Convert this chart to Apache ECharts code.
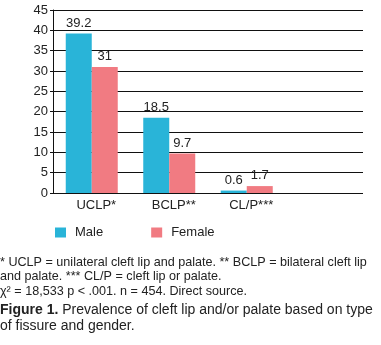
<!DOCTYPE html>
<html>
<head>
<meta charset="utf-8">
<script src="https://cdn.jsdelivr.net/npm/echarts@6/dist/echarts.min.js"></script>
<style>
html, body { margin: 0; padding: 0; background: #fff; }
#chart { width: 381px; height: 345px; }
</style>
</head>
<body>
<div id="chart"></div>
<script>
// the last slot is empty in the original figure
const categories = ["UCLP*", "BCLP**", "CL/P***", ""]
const male = [39.2, 18.5, 0.6, null]
const female = [31, 9.7, 1.7, null]
const yTicks = { min: 0, max: 45, interval: 5 }

const font = "Liberation Sans, Arial, sans-serif"
const chart = echarts.init(document.getElementById("chart"))

const option = {
	animation: false,
	textStyle: { fontFamily: font },
	grid: { left: 53, top: 10, width: 310, height: 183 },
	legend: {
		left: 55,
		top: 226,
		padding: 0,
		icon: "rect",
		itemWidth: 11,
		itemHeight: 10,
		itemGap: 48,
		textStyle: { fontSize: 13, color: "#222", fontFamily: font, padding: [0, 0, 0, 4] },
		data: ["Male", "Female"]
	},
	xAxis: {
		type: "category",
		data: categories,
		axisLine: { show: false },
		axisTick: { show: false },
		axisLabel: { fontSize: 13, color: "#222", margin: 6, fontFamily: font, padding: [0, 0, 0, 9] }
	},
	yAxis: {
		type: "value",
		min: yTicks.min,
		max: yTicks.max,
		interval: yTicks.interval,
		axisLine: { show: true, lineStyle: { color: "#111", width: 1 } },
		axisTick: { show: true, length: 3, lineStyle: { color: "#111" } },
		axisLabel: { fontSize: 13, color: "#222", margin: 5, fontFamily: font },
		splitLine: { show: true, lineStyle: { color: "#111", width: 1 } }
	},
	series: [
		{
			name: "Male",
			type: "bar",
			data: male,
			barWidth: 26,
			barGap: "0%",
			itemStyle: { color: "#29b4d8" },
			label: { show: true, position: "top", fontSize: 13, color: "#222", distance: 4, fontFamily: font }
		},
		{
			name: "Female",
			type: "bar",
			data: female,
			barWidth: 26,
			itemStyle: { color: "#f17b82" },
			label: { show: true, position: "top", fontSize: 13, color: "#222", distance: 4, fontFamily: font }
		}
	],
	graphic: [
		{
			type: "text",
			left: 0,
			top: 255,
			style: {
				text: "* UCLP = unilateral cleft lip and palate. ** BCLP = bilateral cleft lip\nand palate. *** CL/P = cleft lip or palate.\nχ² = 18,533 p < .001. n = 454. Direct source.",
				font: "12.6px " + font,
				lineHeight: 14.5,
				fill: "#222"
			}
		},
		{
			type: "text",
			left: 0,
			top: 302,
			style: {
				text: "{b|Figure 1.} Prevalence of cleft lip and/or palate based on type\nof fissure and gender.",
				font: "14px " + font,
				lineHeight: 16,
				fill: "#222",
				rich: {
					b: { fontWeight: "bold", fontSize: 14, fontFamily: font, fill: "#222", lineHeight: 16 }
				}
			}
		}
	]
}
chart.setOption(option)
</script>
</body>
</html>
